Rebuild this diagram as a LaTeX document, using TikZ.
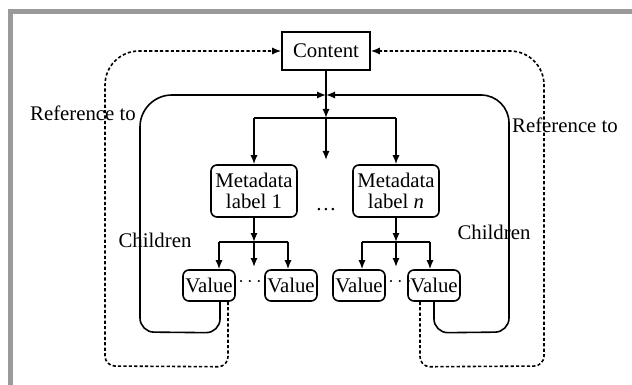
\documentclass[tikz,border=0pt]{standalone}
\usepackage{fontspec}
\setmainfont{Liberation Serif}
\usetikzlibrary{arrows.meta}
\definecolor{framegray}{HTML}{9A9A9A}

\begin{document}
\begin{tikzpicture}[x=0.5pt,y=-0.5pt,
  font=\fontsize{10.4}{10.6}\selectfont,
  every node/.style={inner sep=1pt},
  box/.style={draw,line width=0.8pt,minimum width=44pt,minimum height=19pt},
  meta/.style={draw,line width=0.8pt,rounded corners=3pt,align=center,
    minimum width=43pt,minimum height=26pt},
  val/.style={draw,line width=0.8pt,rounded corners=3pt,minimum width=26pt,
    minimum height=15.5pt,inner sep=0.5pt},
  link/.style={line width=0.8pt,-{Latex[length=4.5pt,width=3.6pt]}},
  ref/.style={link,dash pattern=on 1.6pt off 1.1pt}]
\useasboundingbox (0,0) rectangle (632,385);
\fill[framegray] (8,9) rectangle (632,14);
\fill[framegray] (8,9) rectangle (13,385);

\node[box] (content) at (326,51) {Content};
\node[meta] (m1) at (254,191) {Metadata\\label 1};
\node[meta] (mn) at (396,191) {Metadata\\label \textit{n}};
\node (mdots) at (326,210) {\dots};
\node[val] (v1) at (209,285.5) {Value};
\node[val] (v2) at (291,285.5) {Value};
\node[val] (v3) at (359,285.5) {Value};
\node[val] (v4) at (434,285.5) {Value};
\node (d1) at (250,282) {$\cdots$};
\node (d2) at (400,282) {$\cdots$};
\node (refl) at (83,113) {Reference to};
\node (refr) at (565,125) {Reference to};
\node (chl) at (155,240) {Children};
\node (chr) at (494,232) {Children};

\coordinate (hub) at (326,95);
\coordinate (bar) at (326,118);
\coordinate (gap) at (326,160);
\coordinate (b1) at (254,242);
\coordinate (b1l) at (219,242);
\coordinate (b1r) at (288,242);
\coordinate (b2) at (396,242);
\coordinate (b2l) at (362,242);
\coordinate (b2r) at (430,242);

% content to the metadata labels
\draw[link] (content.south) -- (bar);
\draw[line width=0.8pt] (m1.north |- bar) -- (mn.north |- bar);
\draw[link] (m1.north |- bar) -- (m1.north);
\draw[link] (bar) -- (gap);
\draw[link] (mn.north |- bar) -- (mn.north);

% metadata labels to the values
\draw[link] (m1.south) -- (b1);
\draw[line width=0.8pt] (b1l) -- (b1r);
\draw[link] (b1l) -- (b1l |- v1.north);
\draw[link] (b1) -- ++(0,25);
\draw[link] (b1r) -- (b1r |- v2.north);
\draw[link] (mn.south) -- (b2);
\draw[line width=0.8pt] (b2l) -- (b2r);
\draw[link] (b2l) -- (b2l |- v3.north);
\draw[link] (b2) -- ++(0,25);
\draw[link] (b2r) -- (b2r |- v4.north);

% children
\draw[link] ([xshift=5.5pt]v1.south) [rounded corners=7pt] -- ++(0,31)
  -- (140,332) [rounded corners=16pt] -- (140,95) -- (hub);
\draw[link] (v4.south) [rounded corners=7pt] -- ++(0,31)
  -- (509,332) [rounded corners=14pt] -- (509,95) -- (hub);

% references
\draw[ref] ([xshift=9.5pt]v1.south) [rounded corners=5pt] -- ++(0,65)
  -- (105,366) [rounded corners=17pt] -- (105,51) -- (content.west);
\draw[ref] ([xshift=-7pt]v4.south) [rounded corners=5pt] -- ++(0,65)
  -- (544,366) [rounded corners=17pt] -- (544,51) -- (content.east);
\end{tikzpicture}
\end{document}
